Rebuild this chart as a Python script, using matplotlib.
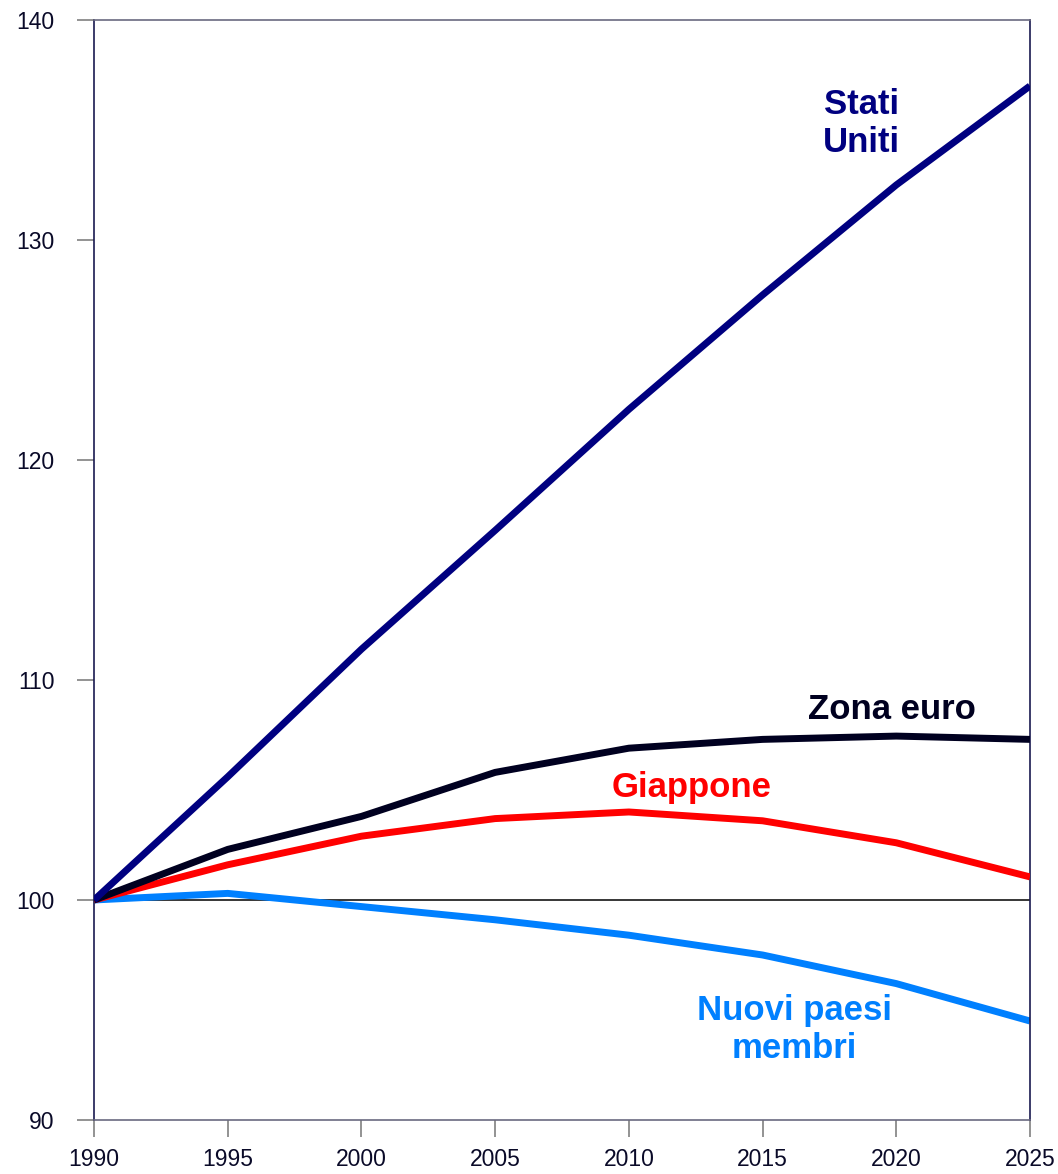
import matplotlib
matplotlib.use("Agg")
import matplotlib.pyplot as plt

plt.rcParams['font.family'] = ['Liberation Sans', 'DejaVu Sans']

years = [1990, 1995, 2000, 2005, 2010, 2015, 2020, 2025]
stati_uniti = [100, 105.6, 111.4, 116.8, 122.3, 127.5, 132.5, 137.0]
zona_euro = [100, 102.3, 103.8, 105.8, 106.9, 107.3, 107.45, 107.3]
giappone = [100, 101.6, 102.9, 103.7, 104.0, 103.6, 102.6, 101.05]
nuovi_paesi = [100, 100.3, 99.7, 99.1, 98.4, 97.5, 96.2, 94.5]

fig = plt.figure(figsize=(10.58, 11.74), dpi=100)
ax = fig.add_axes([0.0889, 0.046, 0.8846, 0.937])

ax.axhline(100, color='black', lw=1.1, zorder=1)

lw = 5
ax.plot(years, nuovi_paesi, color='#0080FF', lw=lw, solid_capstyle='butt', zorder=2)
ax.plot(years, giappone, color='#FF0000', lw=lw, solid_capstyle='butt', zorder=3)
ax.plot(years, zona_euro, color='#000020', lw=lw, solid_capstyle='butt', zorder=4)
ax.plot(years, stati_uniti, color='#000080', lw=lw, solid_capstyle='butt', zorder=5)

fs = 25
ax.text(2018.7, 135.3, 'Stati\nUniti', color='#000080', fontsize=fs, fontweight='bold',
        ha='center', va='center', linespacing=1.2)
ax.text(2019.85, 108.65, 'Zona euro', color='#000020', fontsize=fs, fontweight='bold',
        ha='center', va='center')
ax.text(2012.35, 105.1, 'Giappone', color='#FF0000', fontsize=fs, fontweight='bold',
        ha='center', va='center')
ax.text(2016.2, 94.1, 'Nuovi paesi\nmembri', color='#0080FF', fontsize=fs, fontweight='bold',
        ha='center', va='center', linespacing=1.2)

ax.set_xlim(1990, 2025)
ax.set_ylim(90, 140)
ax.set_xticks(years)
ax.set_yticks([90, 100, 110, 120, 130, 140])
ax.tick_params(axis='both', labelsize=16.5, colors='#808080', labelcolor='#0a0a28',
               length=12.5, width=1.2)
ax.tick_params(axis='x', pad=8)
ax.tick_params(axis='y', pad=16)

ax.spines['left'].set_color('#1a1a50')
ax.spines['right'].set_color('#1a1a50')
ax.spines['top'].set_color('#6a6a80')
ax.spines['bottom'].set_color('#6a6a80')
for s in ax.spines.values():
    s.set_linewidth(1.2)

fig.savefig('out.png', dpi=100)
